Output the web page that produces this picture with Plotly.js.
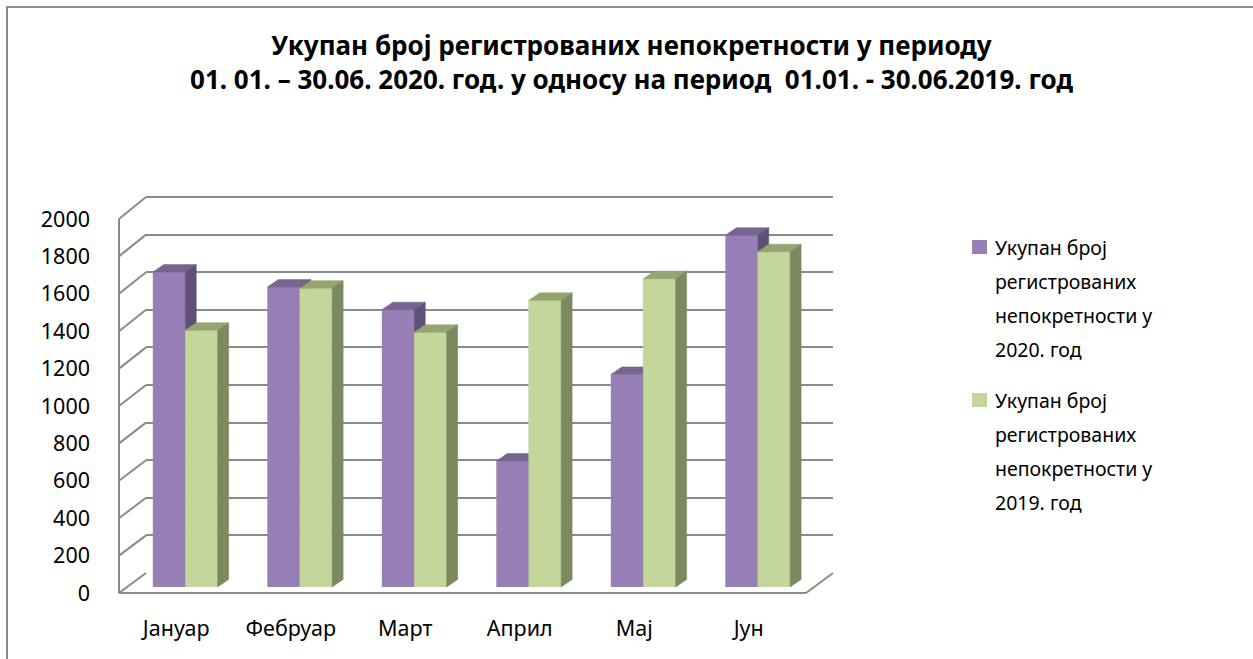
<!DOCTYPE html>
<html>
<head>
<meta charset="utf-8">
<script src="https://cdn.plot.ly/plotly-3.0.1.min.js"></script>
<style>html,body{margin:0;padding:0;background:#fff;}#chart{width:1253px;height:659px;}</style>
</head>
<body>
<div id="chart"></div>
<script>
// ---- data ----
const categories = ['Јануар', 'Фебруар', 'Март', 'Април', 'Мај', 'Јун'];
const values2020 = [1684, 1604, 1483, 674, 1137, 1881];
const values2019 = [1373, 1598, 1362, 1533, 1649, 1793];
const yTicks = [0, 200, 400, 600, 800, 1000, 1200, 1400, 1600, 1800, 2000];
const seriesNames = [
  ['Укупан број', 'регистрованих', 'непокретности у', '2020. год'],
  ['Укупан број', 'регистрованих', 'непокретности у', '2019. год']
];
const titleLines = ['Укупан број регистрованих непокретности у периоду',
  '01. 01. – 30.06. 2020. год. у односу на период  01.01. - 30.06.2019. год'];

// ---- geometry (pixels) ----
const W = 1253, H = 659;
const px = x => x / W, py = y => 1 - y / H;
const FRONT = {x0: 119, x1: 806, y0: 593, y1: 219};
const BACK = {x0: 146, x1: 833, y0: 573, y1: 197};
const BARP = {x0: 128, x1: 815, y0: 587, y1: 213};
const YMAX = 2000, RMAX = 2030;           // axis range slightly above top tick
const barW = 0.283;                       // bar width in category units
const unitPx = (BARP.x1 - BARP.x0) / categories.length;
const depthX = 11 / unitPx;
const depthY = 7.5 / ((BARP.y0 - BARP.y1) / YMAX);

const purple = {front: '#977EB5', top: '#76658F', side: '#5F5078'};
const green = {front: '#C3D69B', top: '#94A56F', side: '#7B8A5E'};
const gridCol = '#8A8A8A';
const FONT = 'Noto Sans, Open Sans, DejaVu Sans, sans-serif';

const idx = categories.map((_, i) => i);
const yDom = P => [py(P.y0), py(P.y0 - (P.y0 - P.y1) * RMAX / YMAX)];

function poly(fn, vals, off) {
  const xs = [], ys = [];
  vals.forEach((v, i) => {
    const p = fn(i + off, v);
    p.forEach(q => { xs.push(q[0]); ys.push(q[1]); });
    xs.push(p[0][0]); ys.push(p[0][1]);
    xs.push(null); ys.push(null);
  });
  return {xs, ys};
}
const frontFn = (x, v) => [[x, 0], [x, v], [x + barW, v], [x + barW, 0]];
const topFn = (x, v) => [[x, v], [x + barW, v], [x + barW + depthX, v + depthY], [x + depthX, v + depthY]];
const sideFn = (x, v) => [[x + barW, 0], [x + barW, v], [x + barW + depthX, v + depthY], [x + barW + depthX, depthY]];

function face(fn, vals, off, col) {
  const p = poly(fn, vals, off);
  return {type: 'scatter', x: p.xs, y: p.ys, xaxis: 'x3', yaxis: 'y3', mode: 'lines',
    line: {color: col, width: 0.5}, fill: 'toself', fillcolor: col,
    hoverinfo: 'skip', showlegend: false};
}

const traces = [
  // front axes and back wall need a trace each to exist
  {type: 'scatter', x: [0], y: [0], xaxis: 'x', yaxis: 'y', mode: 'markers',
   marker: {opacity: 0}, showlegend: false, hoverinfo: 'skip'},
  {type: 'scatter', x: [0], y: [0], xaxis: 'x2', yaxis: 'y2', mode: 'markers',
   marker: {opacity: 0}, showlegend: false, hoverinfo: 'skip'},
  {type: 'bar', x: idx, y: values2020, width: barW, offset: -barW, xaxis: 'x3', yaxis: 'y3',
   marker: {color: purple.front}, name: seriesNames[0].join(' '), showlegend: false},
  {type: 'bar', x: idx, y: values2019, width: barW, offset: 0, xaxis: 'x3', yaxis: 'y3',
   marker: {color: green.front}, name: seriesNames[1].join(' '), showlegend: false},
  face(topFn, values2020, -barW, purple.top),
  face(sideFn, values2020, -barW, purple.side),
  face(frontFn, values2019, 0, green.front),
  face(topFn, values2019, 0, green.top),
  face(sideFn, values2019, 0, green.side)
];

// ---- walls ----
const shapes = [];
const yF = v => py(FRONT.y0 - (FRONT.y0 - FRONT.y1) * v / YMAX);
const yB = v => py(BACK.y0 - (BACK.y0 - BACK.y1) * v / YMAX);
yTicks.forEach(v => {
  shapes.push({type: 'line', xref: 'paper', yref: 'paper', x0: px(FRONT.x0), y0: yF(v),
    x1: px(BACK.x0), y1: yB(v), line: {color: gridCol, width: 2}, layer: 'below'});
});
shapes.push({type: 'line', xref: 'paper', yref: 'paper', x0: px(FRONT.x1), y0: yF(0),
  x1: px(BACK.x1), y1: yB(0), line: {color: gridCol, width: 2}, layer: 'below'});
// front wall edges
shapes.push({type: 'line', xref: 'paper', yref: 'paper', x0: px(FRONT.x0), y0: yF(0),
  x1: px(FRONT.x0), y1: yF(YMAX), line: {color: gridCol, width: 2}, layer: 'below'});
shapes.push({type: 'line', xref: 'paper', yref: 'paper', x0: px(FRONT.x0), y0: yF(0),
  x1: px(FRONT.x1), y1: yF(0), line: {color: gridCol, width: 2}, layer: 'below'});
// outer chart border
shapes.push({type: 'rect', xref: 'paper', yref: 'paper', x0: px(7), y0: py(7), x1: 1.05, y1: -0.05,
  line: {color: '#8C8C8C', width: 2}, fillcolor: 'rgba(0,0,0,0)', layer: 'below'});

// ---- legend built from series names ----
const legendCols = [purple.front, green.front];
const annotations = [];
const legTop = [247, 400];
const lineStep = 34;
seriesNames.forEach((lines, s) => {
  shapes.push({type: 'rect', xref: 'paper', yref: 'paper', x0: px(972), x1: px(987),
    y0: py(legTop[s] - 7), y1: py(legTop[s] + 7), line: {width: 0}, fillcolor: legendCols[s]});
  lines.forEach((t, k) => {
    annotations.push({xref: 'paper', yref: 'paper', x: px(993), y: py(legTop[s] + k * lineStep),
      xanchor: 'left', yanchor: 'middle', text: t, showarrow: false,
      font: {family: FONT, size: 19.5, color: '#000'}});
  });
});

const layout = {
  width: W, height: H,
  margin: {l: 0, r: 0, t: 0, b: 0},
  paper_bgcolor: '#fff', plot_bgcolor: 'rgba(0,0,0,0)',
  showlegend: false,
  title: {text: titleLines.join('<br>'), x: 0.504, xanchor: 'center', y: py(55), yanchor: 'top',
    font: {family: FONT, size: 26, color: '#000', weight: 'bold'}},
  font: {family: FONT, size: 21, color: '#000'},
  xaxis: {domain: [px(FRONT.x0), px(FRONT.x1)], range: [-0.5, categories.length - 0.5], anchor: 'y',
    tickvals: idx, ticktext: categories, showgrid: false, zeroline: false, showline: false,
    ticks: '', ticklabelstandoff: 20, fixedrange: true,
    tickfont: {family: FONT, size: 21.5}},
  yaxis: {domain: yDom(FRONT), range: [0, RMAX], anchor: 'x',
    tickvals: yTicks, showgrid: false, zeroline: false, showline: false,
    ticks: '', ticklabelstandoff: 28, fixedrange: true,
    tickfont: {family: FONT, size: 21.5}},
  xaxis2: {domain: [px(BACK.x0), px(BACK.x1)], range: [-0.5, categories.length - 0.5], anchor: 'y2',
    visible: false, fixedrange: true},
  yaxis2: {domain: yDom(BACK), range: [0, RMAX], anchor: 'x2',
    tickvals: yTicks, showgrid: true, gridcolor: gridCol, gridwidth: 2, zeroline: false,
    showticklabels: false, ticks: '', showline: false, fixedrange: true},
  xaxis3: {domain: [px(BARP.x0), px(BARP.x1)], range: [-0.5, categories.length - 0.5], anchor: 'y3',
    visible: false, fixedrange: true},
  yaxis3: {domain: yDom(BARP), range: [0, RMAX], anchor: 'x3',
    visible: false, fixedrange: true},
  barmode: 'overlay',
  shapes: shapes,
  annotations: annotations
};

Plotly.newPlot('chart', traces, layout, {staticPlot: true, displayModeBar: false});
</script>
</body>
</html>
